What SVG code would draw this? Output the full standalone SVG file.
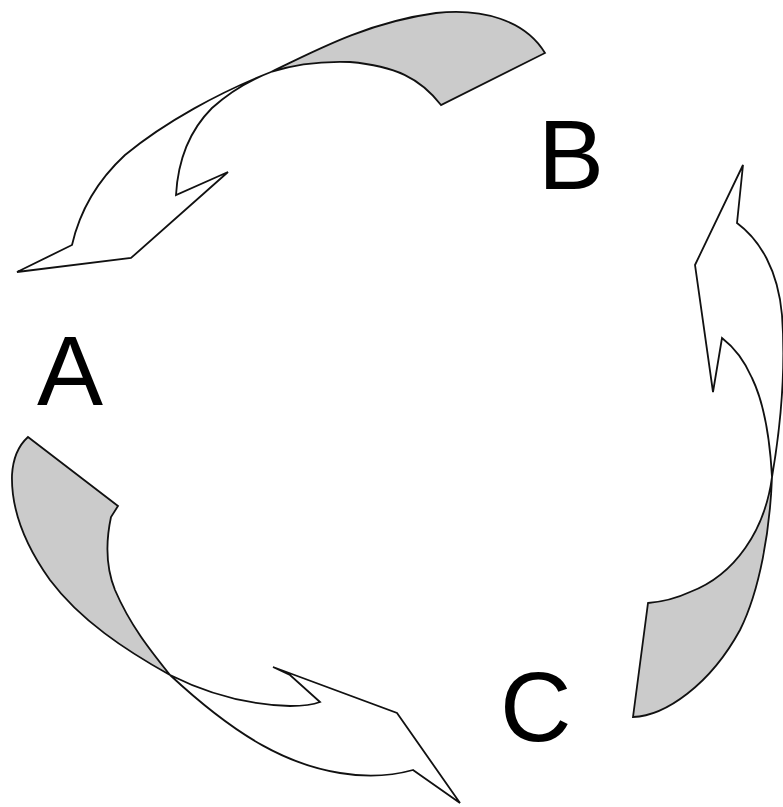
<svg xmlns="http://www.w3.org/2000/svg" width="783" height="807" viewBox="0 0 783 807">
<style>
.tail{fill:#cbcbcb;stroke:#111;stroke-width:1.8;stroke-linejoin:miter}
.head{fill:#fff;stroke:#111;stroke-width:1.8;stroke-linejoin:miter}
.lbl{font-family:"Liberation Sans",Arial,sans-serif;font-size:99px;fill:#000}
</style>
<rect width="783" height="807" fill="#fff"/>
<g id="arrow-b-to-a">
<path class="tail" d="M271,72 C320,48 370,22 436,13 C482,8 525,20 545,53 L441,105 C420,78 395,66 350,62 C320,61 295,64 271,72 Z"/>
<path class="head" d="M271,72 C220,92 165,122 125,155 C98,180 80,210 72,245 L17,272 L131,258 L228,172 L176,195 C178,160 190,130 212,108 C232,90 250,80 271,72 Z"/>
</g>
<g id="arrow-a-to-c">
<path class="tail" d="M28,437 L118,506 L111,517 C105,545 107,570 115,590 C130,625 150,650 170,675 C125,650 80,620 50,580 C25,545 11,510 12,475 C13,458 18,446 28,437 Z"/>
<path class="head" d="M170,675 C210,695 250,705 290,706 C305,706 315,704 320,702 L290,675 L273,667 L397,713 L460,803 L413,770 C395,775 370,778 340,773 C290,765 240,740 170,675 Z"/>
</g>
<g id="arrow-c-to-b">
<path class="tail" d="M772,477 C765,530 735,575 690,592 C675,599 660,602 648,603 L633,717 C665,716 710,685 740,630 C760,590 770,530 772,477 Z"/>
<path class="head" d="M772,477 C770,440 765,405 752,378 C745,362 735,348 722,338 L713,392 L695,265 L743,165 L737,223 C760,240 778,270 782,315 C786,370 780,430 772,477 Z"/>
</g>
<g id="labels">
<text class="lbl" x="37" y="405">A</text>
<text class="lbl" x="538" y="189">B</text>
<text class="lbl" x="500" y="741">C</text>
</g>
</svg>
